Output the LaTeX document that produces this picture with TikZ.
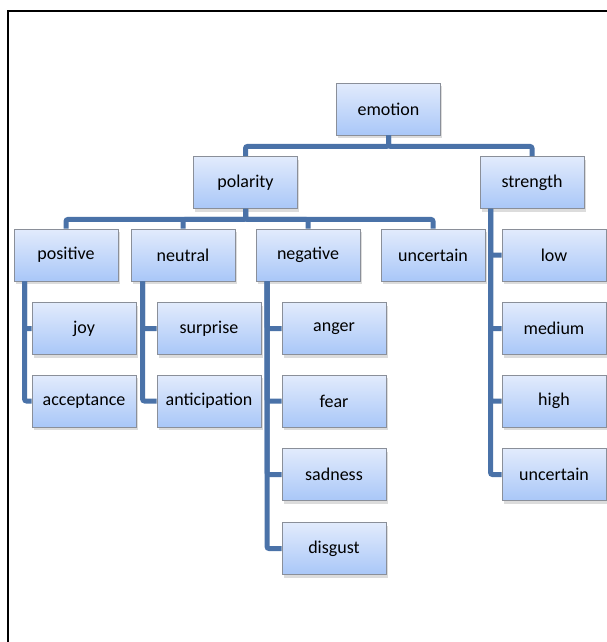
\documentclass[tikz,border=0pt]{standalone}
\usepackage{fontspec}
\setmainfont{Carlito}
\usetikzlibrary{shadows,calc}
\definecolor{linkblue}{HTML}{4A72A8}
\definecolor{boxtop}{HTML}{E2EBFC}
\definecolor{boxbot}{HTML}{A9C7F8}
\definecolor{boxedge}{HTML}{8A8F99}
\tikzset{
  cat/.style={draw=boxedge, line width=0.9pt, top color=boxtop, bottom color=boxbot,
    minimum width=104pt, minimum height=52pt, inner sep=0pt, align=center,
    font=\fontsize{18}{22}\selectfont,
    drop shadow={opacity=0.28, shadow xshift=1.5pt, shadow yshift=-3pt}},
  link/.style={draw=linkblue, line width=5pt, rounded corners=2pt}
}
\begin{document}
\begin{tikzpicture}[x=1pt,y=-1pt]
\useasboundingbox (0,0) rectangle (607,642);
\draw[line width=2.5pt] (8,642) -- (8,11) -- (607,11);
% nodes
\node[cat] (emotion) at (388.5,109) {emotion};
\node[cat] (polarity) at (245.5,182.5) {polarity};
\node[cat] (strength) at (532,182.5) {strength};
\node[cat] (positive) at (66,255) {positive};
\node[cat] (neutral) at (183,255) {neutral};
\node[cat] (negative) at (308,255) {negative};
\node[cat] (uncpol) at (433,255) {uncertain};
\node[cat] (low) at (554,255) {low};
\node[cat] (joy) at (84,328.5) {joy};
\node[cat] (acceptance) at (84,401) {acceptance};
\node[cat] (surprise) at (209,328.5) {surprise};
\node[cat] (anticipation) at (209,401) {anticipation};
\node[cat] (anger) at (334,328.5) {anger};
\node[cat] (fear) at (334,401) {fear};
\node[cat] (sadness) at (334,474.5) {sadness};
\node[cat] (disgust) at (334,548.5) {disgust};
\node[cat] (medium) at (554,328.5) {medium};
\node[cat] (high) at (554,401) {high};
\node[cat] (uncstr) at (554,474.5) {uncertain};
% trunk coordinates
\coordinate (tpos) at ($(positive.south west)+(11,0)$);
\coordinate (tneu) at ($(neutral.south west)+(12,0)$);
\coordinate (tneg) at ($(negative.south west)+(11.5,0)$);
\coordinate (tstr) at ($(strength.south west)+(11,0)$);
% connectors
\begin{scope}
\draw[link] (emotion.south) -- ++(0,11) -| (polarity.north);
\draw[link] (emotion.south) -- ++(0,11) -| (strength.north);
\draw[link] (polarity.south) -- ++(0,10.5) -| (positive.north);
\draw[link] (polarity.south) -- ++(0,10.5) -| (neutral.north);
\draw[link] (polarity.south) -- ++(0,10.5) -| (negative.north);
\draw[link] (polarity.south) -- ++(0,10.5) -| (uncpol.north);
\draw[link] (tpos) |- (joy.west);
\draw[link] (tpos) |- (acceptance.west);
\draw[link] (tneu) |- (surprise.west);
\draw[link] (tneu) |- (anticipation.west);
\draw[link] (tneg) |- (anger.west);
\draw[link] (tneg) |- (fear.west);
\draw[link] (tneg) |- (sadness.west);
\draw[link] (tneg) |- (disgust.west);
\draw[link] (tstr) |- (low.west);
\draw[link] (tstr) |- (medium.west);
\draw[link] (tstr) |- (high.west);
\draw[link] (tstr) |- (uncstr.west);
\end{scope}
\end{tikzpicture}
\end{document}
